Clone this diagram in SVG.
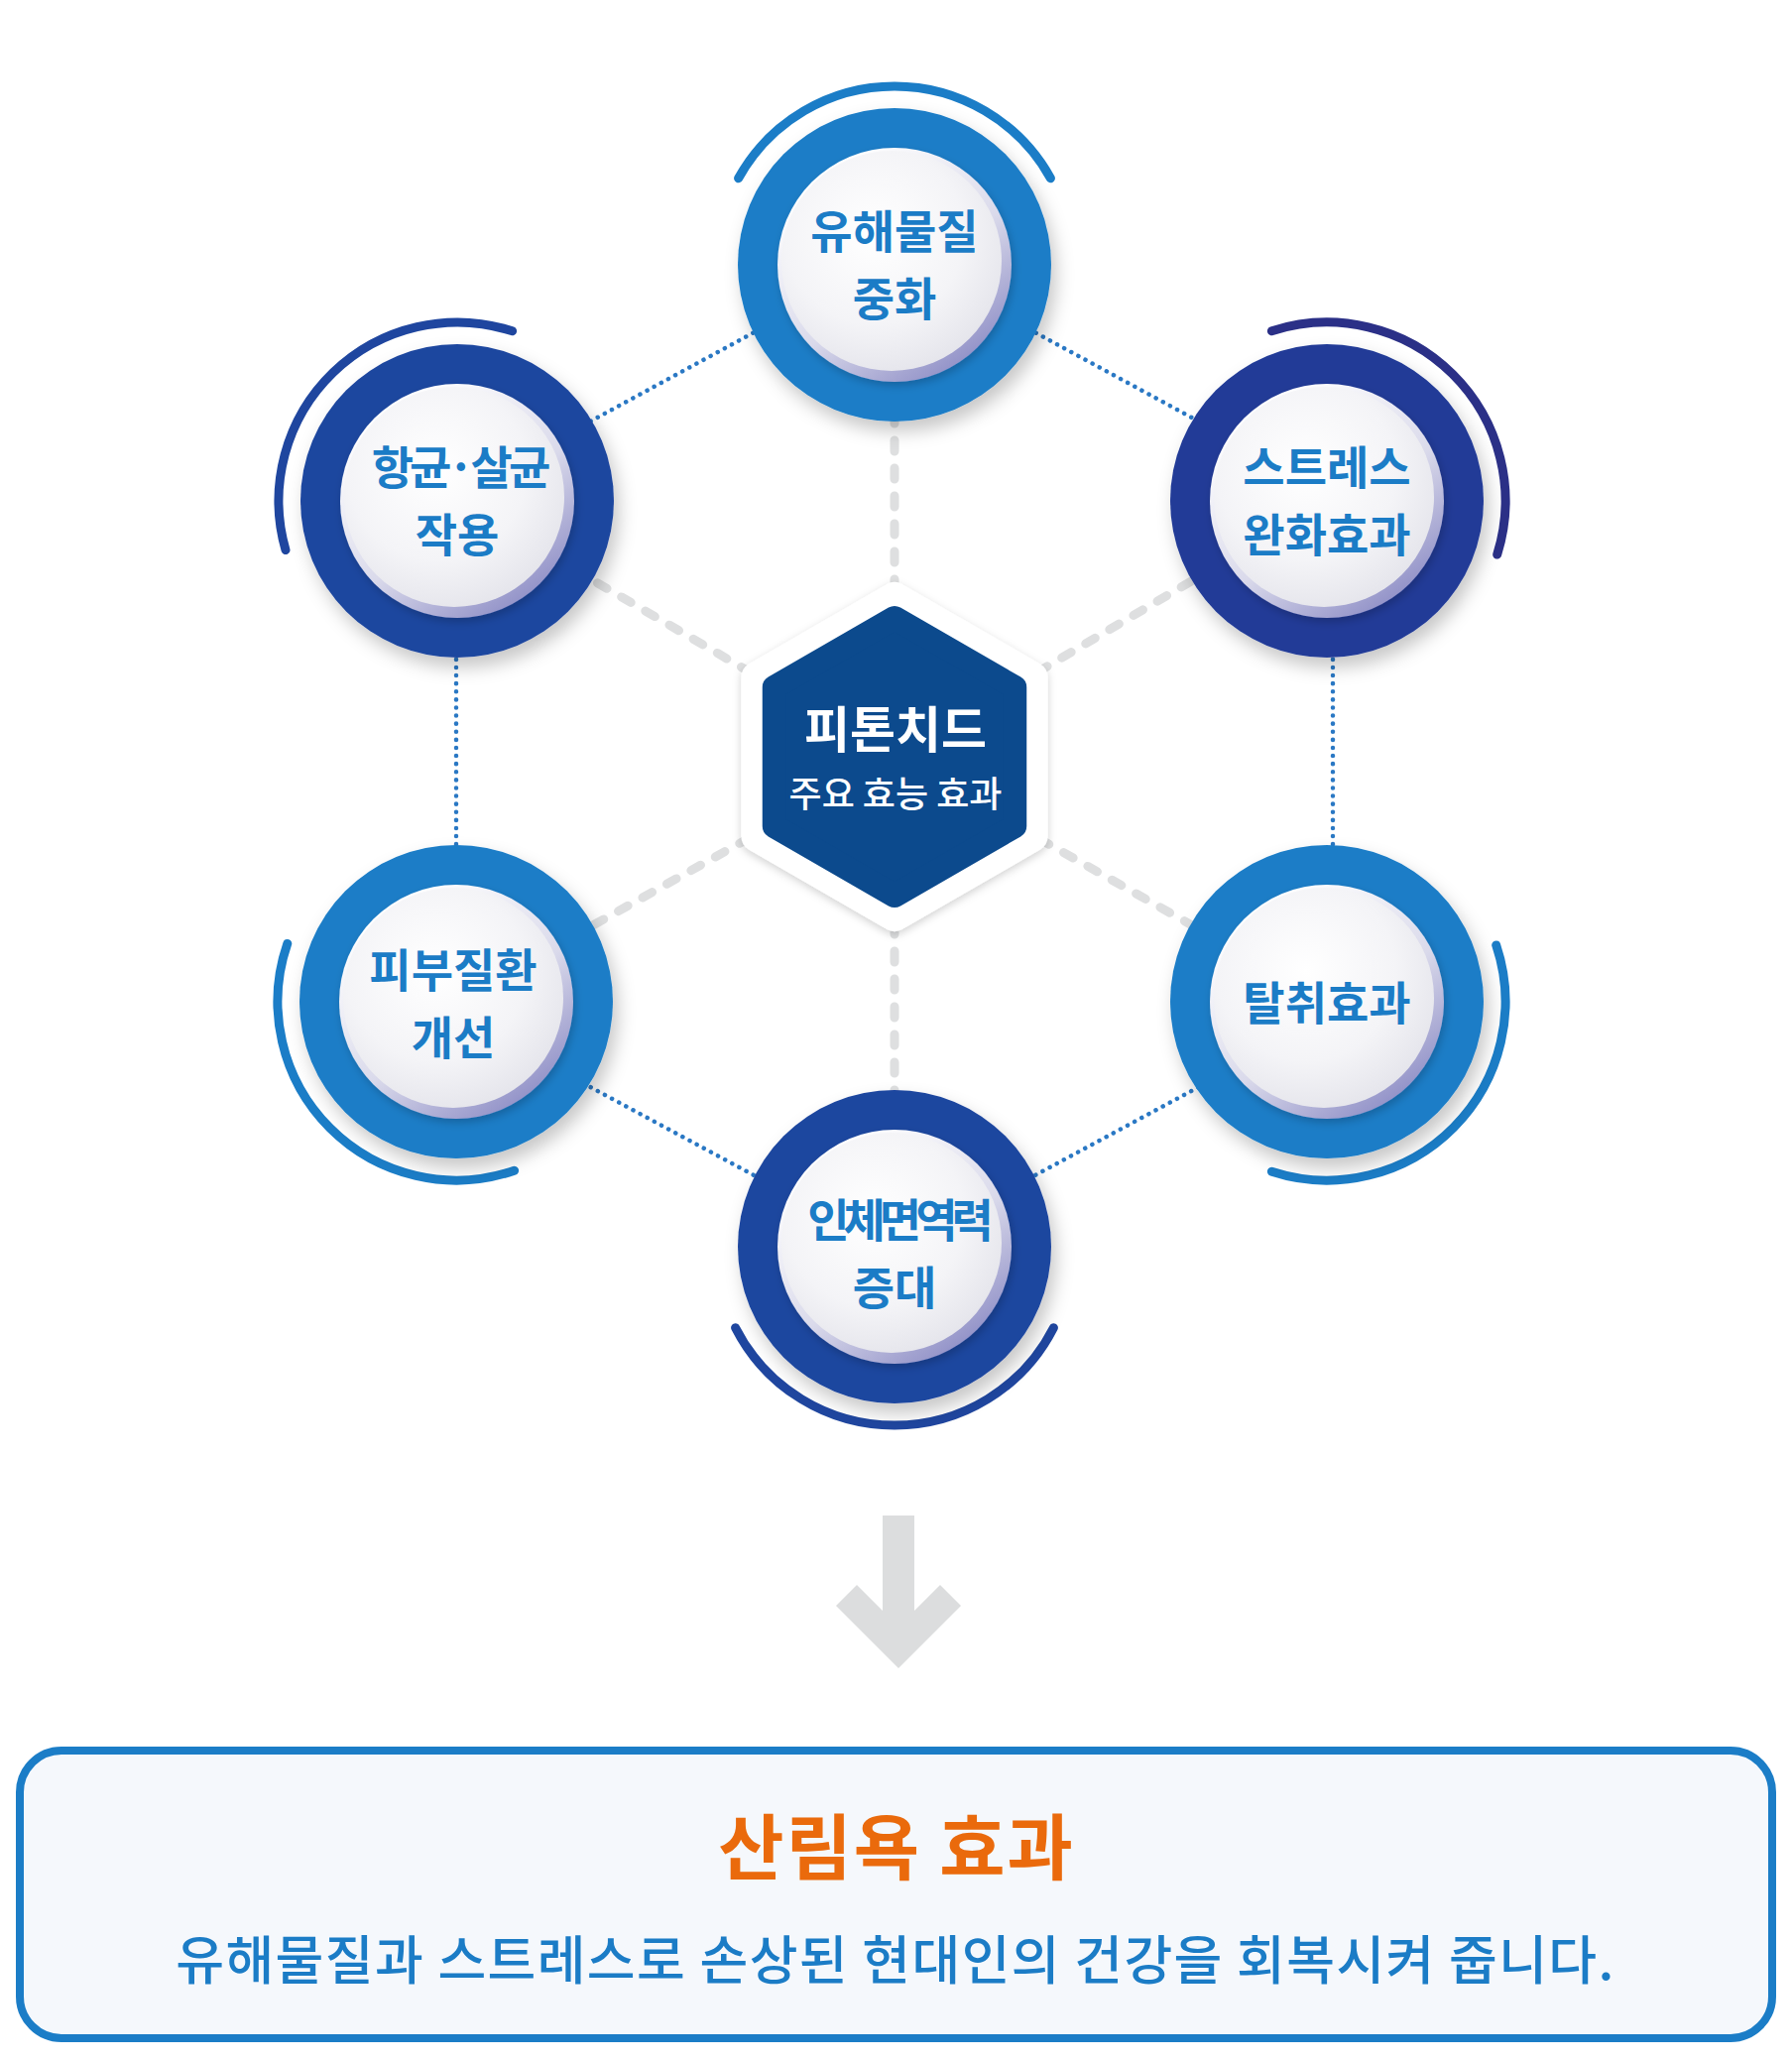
<svg xmlns="http://www.w3.org/2000/svg" width="1807" height="2079" viewBox="0 0 1807 2079">
<defs>
<style>
.lbl{font-family:"Noto Sans CJK KR","Noto Sans",sans-serif;font-weight:700;font-size:46px;fill:#1b7cc6;text-anchor:middle}
.spoke{stroke:#dedfe0;stroke-width:9;stroke-linecap:round;stroke-dasharray:11 17;fill:none}
.dot{stroke:#2a78c4;stroke-width:4.5;stroke-linecap:round;stroke-dasharray:0.1 8;fill:none}
.arc{fill:none;stroke-width:9;stroke-linecap:round}
.rim{fill:url(#rim)}
.disc{fill:url(#disc)}
.mid{fill:#1b7dc7}
.dark{fill:#1f469f}
.navy{fill:#213b97}
</style>
<radialGradient id="disc" cx="0.42" cy="0.38" r="0.68">
<stop offset="0" stop-color="#ffffff"/>
<stop offset="0.6" stop-color="#f4f4f7"/>
<stop offset="1" stop-color="#e3e3ea"/>
</radialGradient>
<linearGradient id="rim" x1="0.2" y1="0.1" x2="0.8" y2="0.95">
<stop offset="0" stop-color="#ffffff"/>
<stop offset="0.55" stop-color="#dadaeb"/>
<stop offset="1" stop-color="#8e8ec6"/>
</linearGradient>
<filter id="sh" x="-30%" y="-30%" width="160%" height="160%">
<feDropShadow dx="5" dy="10" stdDeviation="9" flood-color="#000" flood-opacity="0.22"/>
</filter>
<filter id="sh2" x="-30%" y="-30%" width="160%" height="160%">
<feDropShadow dx="2" dy="4" stdDeviation="4" flood-color="#000" flood-opacity="0.2"/>
</filter>
<filter id="hsh" x="-20%" y="-20%" width="140%" height="140%">
<feDropShadow dx="0" dy="3" stdDeviation="4" flood-color="#000" flood-opacity="0.18"/>
</filter>
</defs>
<rect width="1807" height="2079" fill="#ffffff"/>

<g id="connectors">
<line class="spoke" x1="902" y1="763" x2="902" y2="267"/>
<line class="spoke" x1="902" y1="763" x2="902" y2="1257"/>
<line class="spoke" x1="902" y1="763" x2="461" y2="505"/>
<line class="spoke" x1="902" y1="763" x2="1338" y2="505"/>
<line class="spoke" x1="902" y1="763" x2="460" y2="1010"/>
<line class="spoke" x1="902" y1="763" x2="1338" y2="1010"/>
<line class="dot" x1="560" y1="444" x2="790" y2="319"/>
<line class="dot" x1="1244" y1="444" x2="1014" y2="319"/>
<line class="dot" x1="560" y1="1077" x2="790" y2="1201"/>
<line class="dot" x1="1244" y1="1077" x2="1014" y2="1201"/>
<line class="dot" x1="460" y1="600" x2="460" y2="910"/>
<line class="dot" x1="1344" y1="600" x2="1344" y2="910"/>
</g>

<g id="node-center">
<polygon points="902,603 1040.56,683 1040.56,843 902,923 763.44,843 763.44,683" fill="#ffffff" stroke="#ffffff" stroke-width="32" stroke-linejoin="round" filter="url(#hsh)"/>
<polygon points="902,623 1023.24,693 1023.24,833 902,903 780.76,833 780.76,693" fill="#0c4a8d" stroke="#0c4a8d" stroke-width="24" stroke-linejoin="round"/>
<text x="903" y="754" font-family="Noto Sans CJK KR, Noto Sans, sans-serif" font-weight="700" font-size="50" fill="#ffffff" text-anchor="middle">피톤치드</text>
<text x="903" y="814" font-family="Noto Sans CJK KR, Noto Sans, sans-serif" font-weight="500" font-size="36" fill="#ffffff" text-anchor="middle">주요 효능 효과</text>
</g>

<g id="node-top">
<path class="arc" stroke="#1b7dc7" d="M744.6,179.7 A180,180 0 0 1 1059.4,179.7"/>
<circle class="mid" cx="902" cy="267" r="158" filter="url(#sh)"/>
<circle class="rim" cx="902" cy="267" r="118" filter="url(#sh2)"/>
<circle class="disc" cx="899" cy="263" r="111"/>
<text class="lbl" x="902" y="250">유해물질</text>
<text class="lbl" x="902" y="318">중화</text>
</g>

<g id="node-left-top">
<path class="arc" stroke="#1f469f" d="M288,554.6 A180,180 0 0 1 516.6,333.8"/>
<circle class="dark" cx="461" cy="505" r="158" filter="url(#sh)"/>
<circle class="rim" cx="461" cy="505" r="118" filter="url(#sh2)"/>
<circle class="disc" cx="458" cy="501" r="111"/>
<text class="lbl" x="463" y="488" letter-spacing="-4">항균·살균</text>
<text class="lbl" x="461" y="556">작용</text>
</g>

<g id="node-right-top">
<path class="arc" stroke="#2b3087" d="M1282.4,333.8 A180,180 0 0 1 1509.7,559.1"/>
<circle class="navy" cx="1338" cy="505" r="158" filter="url(#sh)"/>
<circle class="rim" cx="1338" cy="505" r="118" filter="url(#sh2)"/>
<circle class="disc" cx="1335" cy="501" r="111"/>
<text class="lbl" x="1338" y="488">스트레스</text>
<text class="lbl" x="1338" y="556">완화효과</text>
</g>

<g id="node-left-bottom">
<path class="arc" stroke="#1b7dc7" d="M518.6,1180.2 A180,180 0 0 1 289.8,951.4"/>
<circle class="mid" cx="460" cy="1010" r="158" filter="url(#sh)"/>
<circle class="rim" cx="460" cy="1010" r="118" filter="url(#sh2)"/>
<circle class="disc" cx="457" cy="1006" r="111"/>
<text class="lbl" x="457" y="995">피부질환</text>
<text class="lbl" x="457" y="1063">개선</text>
</g>

<g id="node-right-bottom">
<path class="arc" stroke="#1b7dc7" d="M1508.7,952.9 A180,180 0 0 1 1282.4,1181.2"/>
<circle class="mid" cx="1338" cy="1010" r="158" filter="url(#sh)"/>
<circle class="rim" cx="1338" cy="1010" r="118" filter="url(#sh2)"/>
<circle class="disc" cx="1335" cy="1006" r="111"/>
<text class="lbl" x="1338" y="1028">탈취효과</text>
</g>

<g id="node-bottom">
<path class="arc" stroke="#1f469f" d="M1062.4,1338.7 A180,180 0 0 1 741.6,1338.7"/>
<circle class="dark" cx="902" cy="1257" r="158" filter="url(#sh)"/>
<circle class="rim" cx="902" cy="1257" r="118" filter="url(#sh2)"/>
<circle class="disc" cx="899" cy="1253" r="111"/>
<text class="lbl" x="905" y="1247" letter-spacing="-6">인체면역력</text>
<text class="lbl" x="902" y="1315">증대</text>
</g>

<g id="arrow">
<polygon points="890,1528 922,1528 922,1624 948,1598 969,1619 906,1682 843,1619 864,1598 890,1624" fill="#dcddde"/>
</g>

<g id="node-result">
<rect x="20" y="1765" width="1767" height="290" rx="42" ry="42" fill="#f5f8fc" stroke="#1b7dc7" stroke-width="8"/>
<text x="904" y="1889" font-family="Noto Sans CJK KR, Noto Sans, sans-serif" font-weight="700" font-size="72" letter-spacing="2" fill="#ea6a0c" text-anchor="middle">산림욕 효과</text>
<text x="903" y="1996" font-family="Noto Sans CJK KR, Noto Sans, sans-serif" font-weight="500" font-size="53" letter-spacing="1.4" fill="#1b7cc6" text-anchor="middle">유해물질과 스트레스로 손상된 현대인의 건강을 회복시켜 줍니다.</text>
</g>
</svg>
